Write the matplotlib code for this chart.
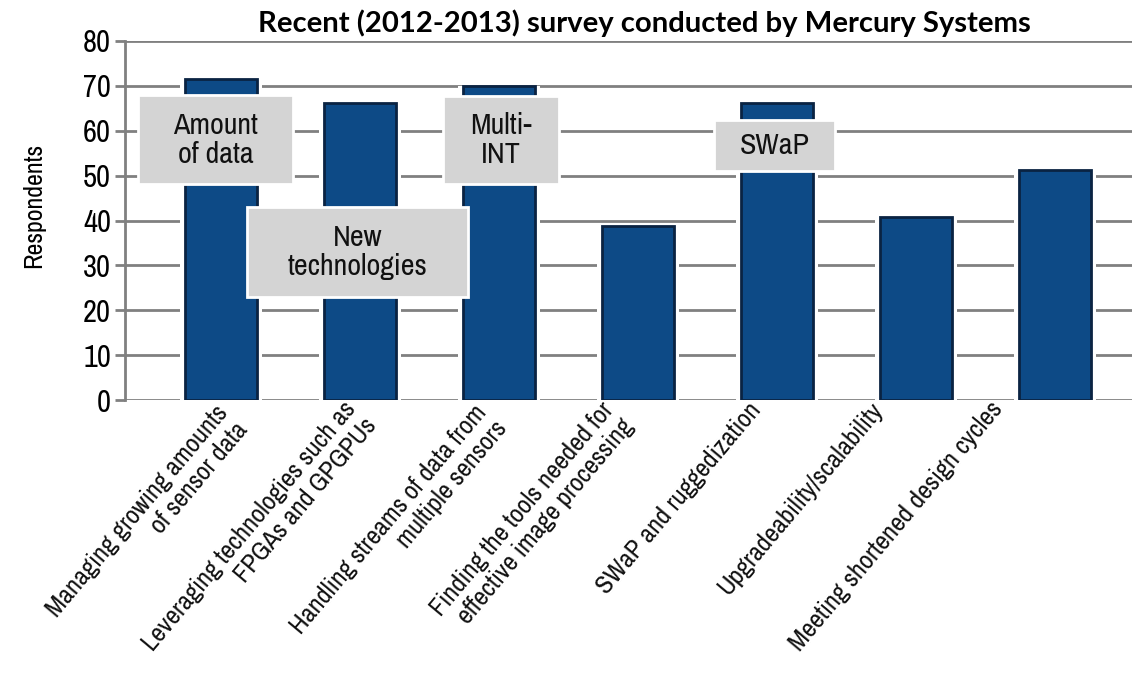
import math
import matplotlib
matplotlib.use("Agg")
import matplotlib.pyplot as plt
from matplotlib.patches import Rectangle
from matplotlib import font_manager, transforms

names = sorted({f.name for f in font_manager.fontManager.ttflist})
narrow = [n for n in names if 'Narrow' in n or 'Condensed' in n]
NARROW = narrow[0] if narrow else 'Liberation Sans'

categories = [
    "Managing growing amounts\nof sensor data",
    "Leveraging technologies such as\nFPGAs and GPGPUs",
    "Handling streams of data from\nmultiple sensors",
    "Finding the tools needed for\neffective image processing",
    "SWaP and ruggedization",
    "Upgradeability/scalability",
    "Meeting shortened design cycles",
]
respondents = [71.5, 66.2, 70.0, 38.8, 66.2, 40.7, 51.2]
yticks = [0, 10, 20, 30, 40, 50, 60, 70, 80]
callouts = ["Amount\nof data", "New\ntechnologies", "Multi-\nINT", "SWaP"]

title = "Recent (2012-2013) survey conducted by Mercury Systems"

W, H = 1132, 676
fig = plt.figure(figsize=(W/100, H/100), dpi=100)
ax = fig.add_axes([125/W, 1-400/H, 1-125/W, (400-41)/H])
renderer = fig.canvas.get_renderer()

def fit_size(text, target_px, family, weight='normal', base=20):
    t = fig.text(0, 0, text, fontsize=base, family=family, fontweight=weight)
    w = t.get_window_extent(renderer).width
    t.remove()
    return base * target_px / w

x = list(range(len(categories)))
ax.set_xlim(-0.69, 6.554)
ax.set_ylim(0, 80)

for v in yticks:
    ax.axhline(v, color='#808080', lw=2, zorder=1)

# white halo behind bars to break gridlines
ax.bar(x, respondents, width=0.59, color='white', zorder=1.5, linewidth=0)
ax.bar(x, respondents, width=0.52, color='#0d4a86', edgecolor='#0a2342', linewidth=2, zorder=2)

label_fs = fit_size("Meeting shortened design cycles", 316, NARROW)
box_fs = fit_size("Amount", 85, NARROW)
tick_fs = fit_size("80", 28, NARROW)
ylab_fs = fit_size("Respondents", 125, NARROW)

# callout boxes (x0, x1, y0, y1) in data units
boxes = [(-0.60, 0.52, 48.1, 67.9), (0.19, 1.78, 22.9, 43.0), (1.595, 2.43, 48.2, 67.8), (3.55, 4.42, 51.1, 62.4)]
for (x0, x1, y0, y1), txt in zip(boxes, callouts):
    ax.add_patch(Rectangle((x0, y0), x1-x0, y1-y0, facecolor='#d4d4d4', edgecolor='white', lw=2, zorder=3))
    ax.text((x0+x1)/2, (y0+y1)/2, txt, ha='center', va='center', fontsize=box_fs, family=NARROW,
            linespacing=1.1, zorder=4, color='#111111')

ax.set_yticks(yticks)
ax.set_yticklabels([str(v) for v in yticks], fontsize=tick_fs, family=NARROW)
ax.tick_params(axis='y', length=7, width=2, color='#808080', pad=3)
ax.set_xticks(x)
ax.set_xticklabels([])
ax.tick_params(axis='x', length=0)
for s in ['top', 'right', 'bottom']:
    ax.spines[s].set_visible(False)
ax.spines['left'].set_color('#808080')
ax.spines['left'].set_linewidth(2)
ax.set_ylabel("Respondents", fontsize=ylab_fs, family=NARROW)
ax.yaxis.set_label_coords(-0.0794, 0.543)

# rotated category labels; end of first line (image px) placed per reference
theta = 50
label_end_dx = [0.04, -0.04, -0.10, -0.19, -0.13, -0.25, -0.39]
label_end_dy = [11, 7, 10, 8, 8, 8, 7]
half = 0.5 * 1.15 * label_fs * 100 / 72
s, c = math.sin(math.radians(theta)), math.cos(math.radians(theta))
for i, lab in enumerate(categories):
    tr = transforms.offset_copy(ax.get_xaxis_transform(), fig=fig,
                                x=-half*s, y=-label_end_dy[i] + half*c, units='dots')
    ax.text(i + label_end_dx[i], 0, lab, transform=tr, rotation=theta, rotation_mode='anchor',
            ha='right', va='top', multialignment='right', fontsize=label_fs, family=NARROW,
            linespacing=1.15, color='#111111', clip_on=False)

title_fs = fit_size(title, 772, 'Lato', 'bold')
fig.text(644/W, 1-23/H, title, ha='center', va='center', fontsize=title_fs, fontweight='bold',
         family='Lato')

fig.savefig("out.png", dpi=100)
